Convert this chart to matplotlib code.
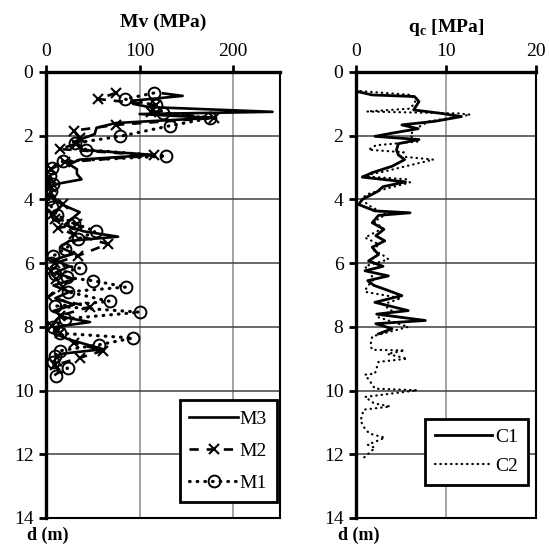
import matplotlib
matplotlib.use("Agg")
import matplotlib.pyplot as plt

plt.rcParams['font.family'] = ['Liberation Serif', 'DejaVu Serif']
plt.rcParams['mathtext.fontset'] = 'custom'
plt.rcParams['mathtext.rm'] = 'Liberation Serif'
plt.rcParams['mathtext.bf'] = 'Liberation Serif:bold'

# ---------------- data: left panel (Mv, MPa vs depth, m) ----------------
m3_depth = [0.67, 0.75, 0.90, 1.00, 1.10, 1.25, 1.32, 1.44, 1.60, 1.75, 1.95, 2.20,
            2.45, 2.60, 2.75, 2.90, 3.05, 3.20, 3.37, 3.50, 3.60, 3.80, 4.00, 4.20,
            4.40, 4.60, 4.80, 5.00, 5.17, 5.30, 5.50, 5.70, 5.90, 6.10, 6.30, 6.50,
            6.70, 6.90, 7.10, 7.30, 7.50, 7.70, 7.85, 8.00, 8.20, 8.40, 8.70, 8.85,
            9.00, 9.20, 9.40, 9.50]
m3_value = [125, 146, 93, 93, 110, 242, 100, 178, 75, 54, 52, 29,
            40, 114, 36, 25, 33, 33, 38, 14, 5, 5, 8, 20,
            36, 28, 20, 40, 77, 25, 15, 30, 8, 25, 10, 30,
            8, 25, 10, 30, 8, 20, 47, 10, 8, 25, 61, 15,
            10, 8, 15, 10]

m2_depth = [0.65, 0.85, 1.04, 1.24, 1.44, 1.66, 1.84, 2.07, 2.25, 2.42, 2.62, 2.83,
            3.05, 3.30, 3.60, 3.85, 4.15, 4.47, 4.60, 4.78, 4.90, 5.10, 5.40, 5.77,
            6.00, 6.25, 6.50, 6.75, 7.07, 7.37, 7.65, 7.97, 8.20, 8.50, 8.75, 8.97,
            9.20]
m2_value = [75, 56, 118, 112, 180, 75, 30, 36, 32, 15, 115, 20,
            5, 3, 5, 3, 18, 8, 10, 33, 13, 30, 66, 34,
            10, 5, 11, 18, 2, 47, 15, 6, 15, 30, 61, 36,
            10]

m1_depth = [0.66, 0.85, 1.05, 1.29, 1.45, 1.69, 2.02, 2.23, 2.44, 2.64, 2.80, 3.00,
            3.25, 3.50, 3.75, 4.00, 4.25, 4.50, 4.75, 5.00, 5.25, 5.56, 5.77, 6.00,
            6.16, 6.35, 6.45, 6.55, 6.75, 6.90, 7.20, 7.35, 7.54, 7.75, 8.00, 8.20,
            8.35, 8.56, 8.75, 8.90, 9.10, 9.30, 9.53]
m1_value = [115, 84, 118, 125, 175, 132, 79, 31, 43, 128, 18, 6,
            4, 8, 5, 3, 6, 12, 30, 53, 34, 20, 8, 5,
            36, 10, 22, 50, 86, 23, 68, 10, 100, 20, 8, 15,
            93, 57, 15, 10, 8, 23, 11]

# ---------------- data: right panel (qc, MPa vs depth, m) ----------------
c1_depth = [0.61, 0.72, 0.77, 0.93, 1.19, 1.30, 1.40, 1.55, 1.66, 1.78, 1.92, 2.02,
            2.12, 2.25, 2.45, 2.60, 2.75, 2.96, 3.16, 3.30, 3.45, 3.60, 3.75, 4.00,
            4.16, 4.36, 4.42, 4.50, 4.73, 4.94, 5.14, 5.30, 5.50, 5.73, 5.93, 6.10,
            6.24, 6.40, 6.55, 6.70, 6.85, 7.02, 7.23, 7.49, 7.60, 7.80, 7.90, 8.06,
            8.22]
c1_value = [0.1, 1.8, 6.5, 7.0, 6.4, 9.5, 11.7, 8.7, 5.1, 6.9, 4.0, 2.1,
            7.0, 4.7, 4.5, 4.7, 5.4, 4.0, 1.8, 0.7, 5.5, 3.0, 2.4, 0.7,
            0.3, 2.1, 6.0, 2.5, 1.8, 3.1, 2.2, 3.2, 1.8, 2.5, 1.4, 3.0,
            1.0, 3.6, 1.3, 2.0, 3.5, 5.1, 2.1, 5.8, 2.3, 7.7, 2.2, 4.0,
            2.5]

c2_depth = [0.60, 0.72, 0.95, 1.15, 1.24, 1.27, 1.30, 1.34, 1.55, 1.80, 2.00, 2.18,
            2.30, 2.44, 2.52, 2.64, 2.75, 2.96, 3.10, 3.27, 3.37, 3.47, 3.65, 3.84,
            4.00, 4.20, 4.35, 4.47, 4.70, 4.90, 5.05, 5.20, 5.40, 5.60, 5.75, 5.88,
            6.10, 6.30, 6.50, 6.75, 6.90, 7.10, 7.30, 7.50, 7.70, 8.00, 8.30, 8.58,
            8.72, 8.74, 8.85, 9.00, 9.10, 9.47, 9.50, 9.73, 9.94, 9.99, 10.20, 10.40,
            10.50, 10.60, 10.95, 11.20, 11.35, 11.48, 11.70, 11.80, 12.00, 12.10]
c2_value = [0.5, 6.2, 6.6, 6.0, 1.2, 6.2, 11.4, 12.7, 8.1, 6.5, 6.0, 7.0,
            2.2, 1.4, 5.3, 4.6, 8.6, 5.5, 3.5, 0.7, 5.7, 6.0, 3.5, 1.2,
            0.6, 1.5, 2.5, 3.3, 2.0, 3.0, 2.0, 1.0, 2.5, 2.0, 3.0, 3.6,
            1.0, 1.5, 2.0, 1.2, 1.0, 5.0, 3.0, 4.0, 2.5, 5.8, 1.8, 1.6,
            1.8, 5.4, 3.5, 5.7, 2.5, 2.1, 1.0, 1.6, 2.1, 6.8, 1.0, 2.0,
            3.8, 0.85, 0.5, 1.0, 1.5, 3.2, 1.3, 2.1, 1.3, 0.9]

depth_ticks = [0, 2, 4, 6, 8, 10, 12, 14]
left_xticks = [0, 100, 200]
right_xticks = [0, 10, 20]

W, H = 549, 546
fig = plt.figure(figsize=(W / 100, H / 100), dpi=100)

def px_axes(x0, x1, ytop, ybot):
    return fig.add_axes([x0 / W, 1 - ybot / H, (x1 - x0) / W, (ybot - ytop) / H])

axL = px_axes(46, 280, 72, 518)
axR = px_axes(356, 536, 72, 518)

def style(ax, xlim, xticks):
    ax.set_xlim(*xlim)
    ax.set_ylim(14, 0)
    ax.set_yticks(depth_ticks)
    ax.set_xticks(xticks)
    ax.xaxis.set_ticks_position('top')
    ax.xaxis.set_label_position('top')
    ax.tick_params(axis='both', labelsize=14, direction='out', width=2, length=5,
                   colors='black')
    ax.tick_params(axis='x', pad=4)
    ax.tick_params(axis='y', pad=4)
    for x in xticks[1:]:
        ax.axvline(x, color='#8a8a8a', lw=1.1, zorder=0)
    for y in depth_ticks[1:-1]:
        ax.axhline(y, color='#404040', lw=1.1, zorder=0)
    ax.spines['left'].set_linewidth(2.4)
    ax.spines['top'].set_linewidth(2.4)
    ax.spines['bottom'].set_linewidth(1.5)
    ax.spines['right'].set_linewidth(1.5)
    for s in ax.spines.values():
        s.set_color('black')

style(axL, (0, 250), left_xticks)
style(axR, (0, 20), right_xticks)

axL.plot(m3_value, m3_depth, color='black', lw=1.9, label='M3', zorder=3)
axL.plot(m2_value, m2_depth, color='black', lw=1.9, ls=(0, (3.5, 3)), marker='x',
         ms=7, mew=1.5, label='M2', zorder=4)
axL.plot(m1_value, m1_depth, color='black', lw=2.3, ls=(0, (0.2, 2.2)),
         dash_capstyle='round', marker='o', ms=8.5, mfc='none', mew=1.4,
         label='M1', zorder=4)

axR.plot(c1_value, c1_depth, color='black', lw=2.0, label='C1', zorder=3)
axR.plot(c2_value, c2_depth, color='black', lw=1.6, ls=(0, (0.2, 2.2)),
         dash_capstyle='round', label='C2', zorder=3)

legL = axL.legend(loc='lower right', bbox_to_anchor=(0.987, 0.036), fontsize=14,
                  frameon=True, fancybox=False, edgecolor='black', framealpha=1,
                  handlelength=2.5, labelspacing=0.75, borderpad=0.5,
                  handletextpad=0.1, borderaxespad=0)
legL.get_frame().set_linewidth(2.0)
legR = axR.legend(loc='lower right', bbox_to_anchor=(0.956, 0.074), fontsize=14,
                  frameon=True, fancybox=False, edgecolor='black', framealpha=1,
                  handlelength=2.9, labelspacing=0.6, borderpad=0.5,
                  handletextpad=0.2, borderaxespad=0)
legR.get_frame().set_linewidth(2.0)

fig.text(163 / W, 1 - 22 / H, 'Mv (MPa)', ha='center', va='center', fontsize=14,
         fontweight='bold')
fig.text(446 / W, 1 - 27 / H, r'$\mathbf{q}_{\mathbf{c}}$ [MPa]', ha='center',
         va='center', fontsize=14, fontweight='bold')
fig.text(48 / W, 1 - 535 / H, 'd (m)', ha='center', va='center', fontsize=13,
         fontweight='bold')
fig.text(359 / W, 1 - 535 / H, 'd (m)', ha='center', va='center', fontsize=13,
         fontweight='bold')

fig.savefig('out.png', dpi=100)
